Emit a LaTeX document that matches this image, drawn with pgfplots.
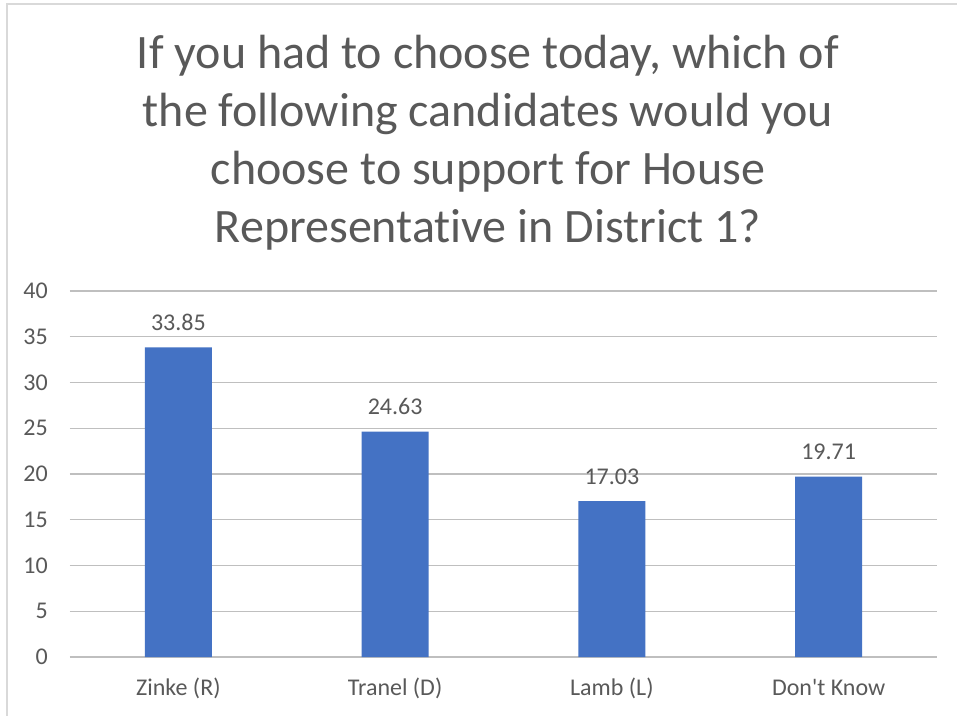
\documentclass[border=0pt]{standalone}
\usepackage{pgfplots}
\pgfplotsset{compat=1.18}
\usepackage{fontspec}
\setmainfont{Carlito}[Ligatures={TeX,NoCommon}]
\definecolor{txt}{HTML}{595959}
\definecolor{grid}{HTML}{D9D9D9}
\definecolor{bar}{HTML}{4472C4}
\newcommand{\apos}{\XeTeXglyph\XeTeXcharglyph"27\relax}
\begin{document}
\begin{tikzpicture}[x=1pt,y=1pt]
\useasboundingbox (0,0) rectangle (957,715);
\fill[white] (0,0) rectangle (957,715);
\draw[grid,line width=1.2pt] (7,-5) -- (7,711) -- (970,711);
\foreach \t [count=\i from 0] in {If you had to choose today{,} which of,the following candidates would you,choose to support for House,Representative in District 1?}
  \node[anchor=base,text=txt,font=\fontsize{48}{56}\selectfont,inner sep=0] at (488,{715-69-58*\i}) {\t};
\begin{axis}[
  at={(70pt,58pt)}, anchor=south west,
  scale only axis, width=867pt, height=366pt,
  xmin=-0.5, xmax=3.5, ymin=0, ymax=40,
  xtick={0,1,2,3},
  xticklabels={Zinke (R),Tranel (D),Lamb (L),Don\apos t Know},
  ytick={0,5,...,40},
  axis line style={draw=none},
  axis x line*=bottom,
  major tick length=0, tick style={draw=none},
  xmajorgrids=false,
  ymajorgrids, grid style={grid,line width=1.2pt},
  /pgf/number format/assume math mode=true,
  tick label style={text=txt,font=\fontsize{24}{28}\selectfont},
  xticklabel style={anchor=base,yshift=-38pt,inner sep=0},
  yticklabel style={anchor=east,inner xsep=0,xshift=-22pt},
  ybar, bar width=67pt,
  nodes near coords,
  nodes near coords style={text=txt,font=\fontsize{24}{28}\selectfont,
    /pgf/number format/fixed,/pgf/number format/fixed zerofill,
    /pgf/number format/precision=2,/pgf/number format/assume math mode=true},
  every node near coord/.append style={anchor=base,yshift=17pt,inner sep=0},
]
\addplot[fill=bar,draw=none] coordinates {(0,33.85) (1,24.63) (2,17.03) (3,19.71)};
\end{axis}
\end{tikzpicture}
\end{document}
